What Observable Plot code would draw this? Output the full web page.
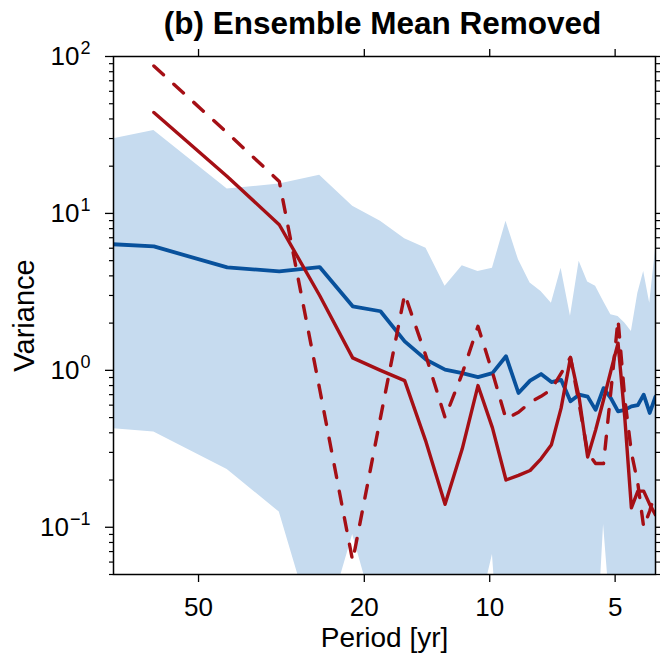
<!DOCTYPE html>
<html>
<head>
<meta charset="utf-8">
<script src="https://cdn.jsdelivr.net/npm/d3@7"></script>
<script src="https://cdn.jsdelivr.net/npm/@observablehq/plot@0.6"></script>
<style>
  html, body { margin: 0; padding: 0; background: #fff; }
  svg { display: block; }
</style>
</head>
<body>
<div id="chart"></div>
<script>
// Period [yr] of each spectral estimate
const periods = [128, 64, 42.67, 32, 25.6, 21.33, 18.29, 16, 14.22, 12.8, 11.64, 10.67, 9.85, 9.14, 8.53, 8,
                 7.53, 7.11, 6.74, 6.4, 6.1, 5.82, 5.57, 5.33, 5.12, 4.92, 4.74, 4.57, 4.41, 4.27, 4.13, 4];
// Ensemble spread (shaded band)
const bandUpper = [23, 33.8, 14.3, 15.4, 17.5, 11.1, 8.9, 6.9, 6.0, 3.43, 4.64, 4.27, 4.48, 8.9, 5.06, 3.6,
                   3.18, 2.68, 4.48, 2.21, 4.95, 3.65, 3.43, 2.75, 2.26, 2.2, 2.0, 1.77, 3.1, 4.27, 2.68, 5.87];
const bandLower = [0.47, 0.405, 0.233, 0.125, 0.017, 0.09, 0.021, 0.01, 0.01, 0.01, 0.01, 0.027, 0.067, 0.004, 0.01, 0.01,
                   0.01, 0.01, 0.01, 0.01, 0.01, 0.01, 0.012, 0.104, 0.027, 0.01, 0.01, 0.01, 0.01, 0.01, 0.01, 0.01];
// Ensemble mean (blue)
const ensembleMean = [6.8, 6.16, 4.53, 4.27, 4.55, 2.56, 2.38, 1.53, 1.17, 1.01, 0.96, 0.906, 0.96, 1.23, 0.717, 0.86,
                      0.947, 0.842, 0.87, 0.635, 0.70, 0.68, 0.56, 0.77, 0.666, 0.548, 0.56, 0.59, 0.60, 0.70, 0.535, 0.68];
// Observations (red solid)
const obsSolid = [null, 44, 17.2, 8.47, 3.0, 1.2, 1.0, 0.86, 0.35, 0.14, 0.316, 0.80, 0.43, 0.20, 0.214, 0.23,
                  0.273, 0.336, 0.574, 1.2, 0.67, 0.28, 0.416, 0.65, 0.99, 1.49, 0.5, 0.133, 0.17, 0.17, 0.14, 0.12];
// Observations (red dashed)
const obsDashed = [null, 87, 32.6, 16, 0.76, 0.061, 0.5, 3.06, 1.23, 0.50, 0.955, 1.91, 0.97, 0.49, 0.54, 0.625,
                   0.683, 0.757, 0.957, 1.21, 0.61, 0.30, 0.255, 0.255, 0.73, 2.11, 0.66, 0.30, 0.19, 0.10, 0.127, 0.17];

const xTicks = [50, 20, 10, 5];
const yMajor = [0.1, 1, 10, 100];
const yMinor = [0.05, 0.06, 0.07, 0.08, 0.09, 0.2, 0.3, 0.4, 0.5, 0.6, 0.7, 0.8, 0.9,
                2, 3, 4, 5, 6, 7, 8, 9, 20, 30, 40, 50, 60, 70, 80, 90];

const titleText = "(b) Ensemble Mean Removed";
const xLabel = "Period [yr]";
const yLabel = "Variance";

const table = periods.map((p, i) => ({
  period: p, up: bandUpper[i], low: bandLower[i],
  mean: ensembleMean[i], solid: obsSolid[i], dashed: obsDashed[i]
}));

const red = "#a50f15";
const noText = () => "";
const svg = Plot.plot({
  width: 660,
  height: 656,
  marginLeft: 113,
  marginRight: 5,
  marginTop: 56,
  marginBottom: 82,
  style: { fontFamily: "'Liberation Sans', Arial, Helvetica, sans-serif", background: "white", color: "black" },
  x: { type: "log", domain: [80, 4] },
  y: { type: "log", domain: [0.05, 100] },
  marks: [
    Plot.areaY(table, { x: "period", y1: "low", y2: "up", fill: "#c6dbef", clip: true }),
    Plot.line(table, { x: "period", y: "mean", stroke: "#08519c", strokeWidth: 3.8, clip: true }),
    Plot.line(table, { x: "period", y: "solid", stroke: red, strokeWidth: 3.4, clip: true }),
    Plot.line(table, { x: "period", y: "dashed", stroke: red, strokeWidth: 3.4, strokeDasharray: "13,14", clip: true }),
    Plot.frame({ stroke: "black", strokeWidth: 1.5 }),
    Plot.axisX({ anchor: "bottom", ticks: xTicks, tickSize: 8, tickPadding: 15, fontSize: 26,
                 tickFormat: d => String(d), label: null, strokeWidth: 1.3 }),
    Plot.axisX({ anchor: "top", ticks: xTicks, tickSize: 8, tickFormat: noText, label: null, strokeWidth: 1.3 }),
    Plot.axisY({ anchor: "left", ticks: yMajor, tickSize: 8, tickPadding: 15, fontSize: 26,
                 tickFormat: d => "10^" + Math.round(Math.log10(d)), label: null, strokeWidth: 1.3 }),
    Plot.axisY({ anchor: "left", ticks: yMinor, tickSize: 4, tickFormat: noText, label: null, strokeWidth: 1.2 }),
    Plot.axisY({ anchor: "right", ticks: yMajor, tickSize: 8, tickFormat: noText, label: null, strokeWidth: 1.3 }),
    Plot.axisY({ anchor: "right", ticks: yMinor, tickSize: 4, tickFormat: noText, label: null, strokeWidth: 1.2 }),
    Plot.text([titleText], { text: d => d, frameAnchor: "top", lineAnchor: "top", dx: -2, dy: -45, fontSize: 31.5, fontWeight: "bold" }),
    Plot.text([xLabel], { text: d => d, frameAnchor: "bottom", lineAnchor: "middle", dy: 64, fontSize: 28 }),
    Plot.text([yLabel], { text: d => d, frameAnchor: "left", textAnchor: "middle", lineAnchor: "middle", rotate: -90, dx: -89, fontSize: 29 })
  ]
});

// Render exponents of the y tick labels as superscripts
d3.select(svg).selectAll("text").each(function () {
  const t = this.textContent;
  if (!/^10\^/.test(t)) return;
  const [base, exp] = t.split("^");
  const sel = d3.select(this);
  sel.text(null);
  sel.append("tspan").text(base);
  sel.append("tspan").attr("font-size", 18).attr("dy", -11).attr("dx", 1)
     .text(exp.replace("-", "\u2212"));
});

document.getElementById("chart").appendChild(svg);
</script>
</body>
</html>
